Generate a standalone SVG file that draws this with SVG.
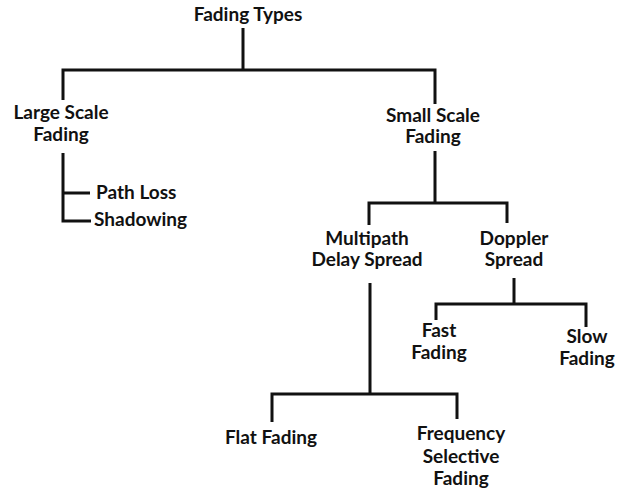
<svg xmlns="http://www.w3.org/2000/svg" width="623" height="502" viewBox="0 0 623 502">
<style>
text{font-family:Lato,"Open Sans","Liberation Sans",sans-serif;font-weight:bold;font-size:19px;fill:#111;text-anchor:middle}
.l{text-anchor:start}
#connectors path{fill:none;stroke:#111;stroke-width:3}
</style>
<rect width="623" height="502" fill="#fff"/>
<g id="connectors">
<path d="M243 28V70M63 100V70H435V104"/>
<path d="M63 153V221H91M63 193H90"/>
<path d="M435 151V203M369 225V203H507V223"/>
<path d="M514 278V304M436 320V304H586V327"/>
<path d="M370 283V394M272 422V394H457V419"/>
</g>
<g id="fading-types"><text x="248" y="21">Fading Types</text></g>
<g id="large-scale"><text x="61" y="119">Large Scale</text><text x="61" y="141">Fading</text></g>
<g id="small-scale"><text x="433" y="122">Small Scale</text><text x="433" y="143">Fading</text></g>
<g id="path-loss"><text class="l" x="96" y="199">Path Loss</text></g>
<g id="shadowing"><text class="l" x="94" y="226">Shadowing</text></g>
<g id="multipath"><text x="367" y="245">Multipath</text><text x="367" y="266">Delay Spread</text></g>
<g id="doppler"><text x="514" y="245">Doppler</text><text x="514" y="266">Spread</text></g>
<g id="fast-fading"><text x="439" y="337">Fast</text><text x="439" y="359">Fading</text></g>
<g id="slow-fading"><text x="587" y="343">Slow</text><text x="587" y="365">Fading</text></g>
<g id="flat-fading"><text x="271" y="444">Flat Fading</text></g>
<g id="freq-selective"><text x="461" y="440">Frequency</text><text x="461" y="463">Selective</text><text x="461" y="485">Fading</text></g>
</svg>
